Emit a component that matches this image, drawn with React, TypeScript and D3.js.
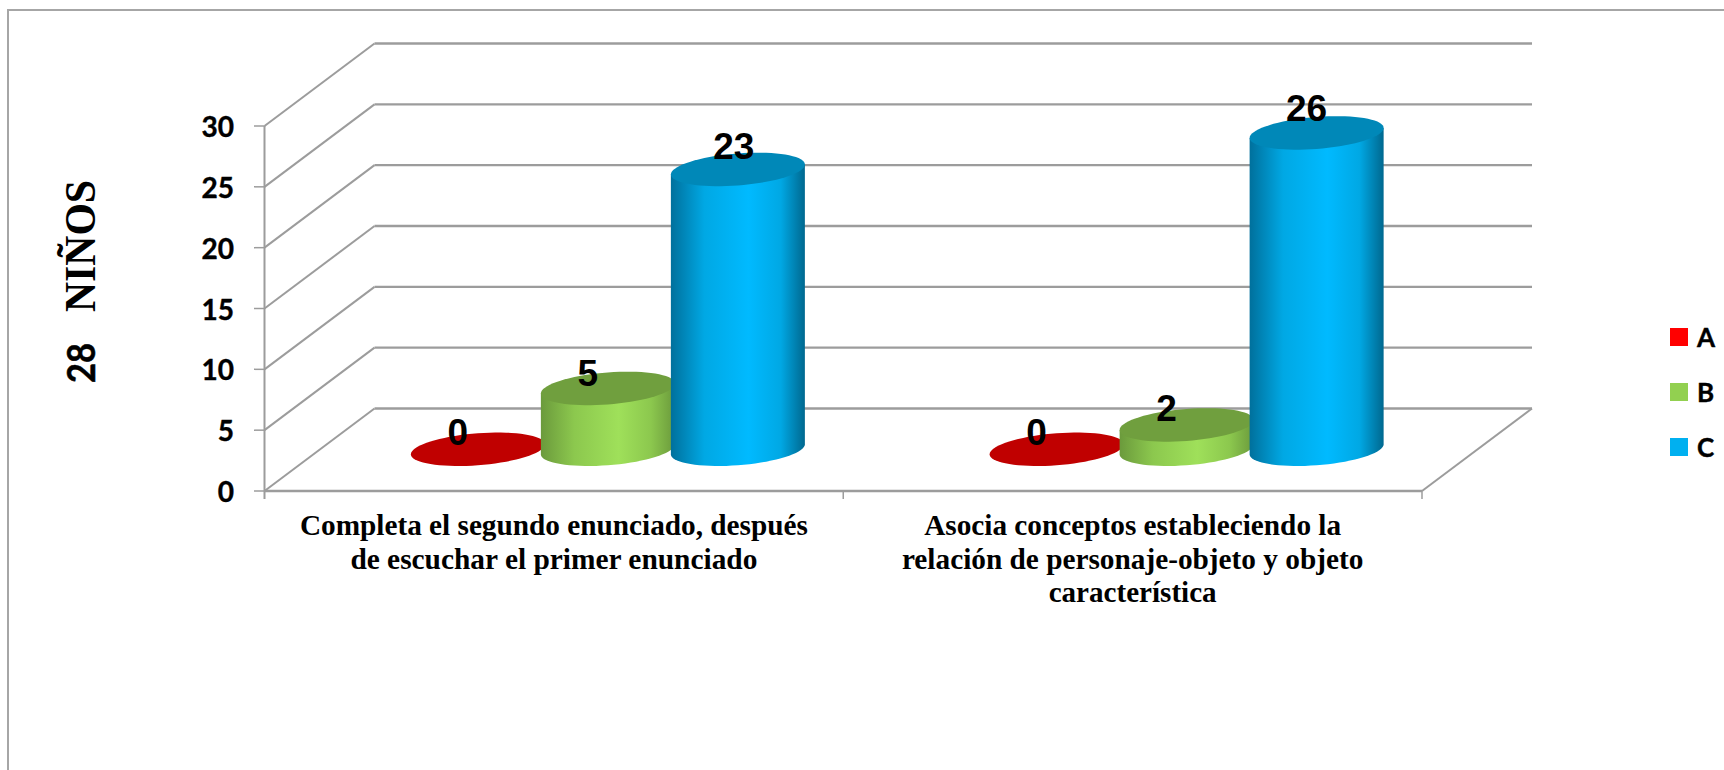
import React from "react";
import * as d3 from "d3";

const categories = [
  ["Completa el segundo enunciado, después", "de escuchar el primer enunciado"],
  ["Asocia conceptos estableciendo la", "relación de personaje-objeto y objeto", "característica"],
];
const categoryKeys = ["cat1", "cat2"];
const seriesNames = ["A", "B", "C"];
const valuesA = [0, 0];
const valuesB = [5, 2];
const valuesC = [23, 26];
const yTicks = [0, 5, 10, 15, 20, 25, 30];

const seriesValues = [valuesA, valuesB, valuesC];
const legendColors = ["#FF0000", "#92D050", "#00B0F0"];
const topColors = ["#C00000", "#709F3E", "#0088B8"];
const sideStops = [
  ["#8a0000", "#c00000", "#ff1a1a", "#c00000", "#8a0000"],
  ["#6b9a3c", "#8cc84e", "#9fe05a", "#8cc84e", "#6b9a3c"],
  ["#00709c", "#00a8e4", "#00baff", "#00a8e4", "#00688f"],
];
// nudges of the data labels relative to the top of each cylinder
const labelNudge = [
  [[-20, -5], [-20, -3], [-4, -11]],
  [[-20, -5], [-20, -4], [-10, -12]],
];
// rendered width of each category label line
const lineWidths = [
  [508, 407],
  [417, 461.5, 168],
];

const GRID = "#9c9c9c";
const SANS = "Lato, 'Open Sans', sans-serif";
const SERIF = "'Liberation Serif', serif";
const ARIAL = "'Liberation Sans', Arial, sans-serif";

const depthX = 110;
const depthY = 82.5;
const x0 = d3.scaleBand<string>().domain(categoryKeys).range([264.5, 1422]);
const x1 = d3.scaleBand<string>().domain(seriesNames).range([-195, 195]);
const y = d3.scaleLinear().domain([0, 30]).range([491, 126]);

const rx = 67;
const skew = 5;
const ry = 16;

function ellipsePath(cx: number, cy: number) {
  const pts = d3.range(0, 73).map((i) => {
    const t = (i / 72) * 2 * Math.PI;
    return [cx + rx * Math.cos(t), cy - skew * Math.cos(t) + ry * Math.sin(t)] as [number, number];
  });
  return d3.line()(pts) + "Z";
}

function bodyPath(cx: number, topY: number, baseY: number) {
  // Side of the cylinder: the top edge from left to right, then the lower half of the base
  const lower = d3.range(0, 37).map((i) => {
    const t = (i / 36) * Math.PI;
    return [cx + rx * Math.cos(t), baseY - skew * Math.cos(t) + ry * Math.sin(t)] as [number, number];
  });
  return `M${cx - rx},${topY + skew}L${cx + rx},${topY - skew}` + "L" + lower.map((p) => p.join(",")).join("L") + "Z";
}

export default function App() {
  const ticksBack = yTicks.map((t) => y(t) - depthY);
  const left = x0.range()[0];
  const right = x0.range()[1];
  return (
    <svg width={1724} height={770} style={{ position: "absolute", left: 0, top: 0, display: "block", background: "#fff" }}>
      <defs>
        {sideStops.map((st, i) => (
          <linearGradient key={i} id={`side${i}`} x1="0" x2="1" y1="0" y2="0">
            <stop offset="0%" stopColor={st[0]} />
            <stop offset="25%" stopColor={st[1]} />
            <stop offset="58%" stopColor={st[2]} />
            <stop offset="82%" stopColor={st[3]} />
            <stop offset="100%" stopColor={st[4]} />
          </linearGradient>
        ))}
      </defs>

      <path d="M8,770V10H1724" fill="none" stroke="#a6a6a6" strokeWidth={2} />

      {/* walls and floor */}
      {yTicks.map((t, i) => (
        <g key={t} stroke={GRID} strokeWidth={2} fill="none">
          <line x1={left} y1={y(t)} x2={left + depthX} y2={ticksBack[i]} />
          <line x1={left + depthX} y1={ticksBack[i]} x2={right + depthX} y2={ticksBack[i]} strokeWidth={2.4} />
          <line x1={254} y1={y(t)} x2={left} y2={y(t)} strokeWidth={1.5} />
        </g>
      ))}
      <g stroke={GRID} fill="none">
        <line x1={left} y1={y(30)} x2={left} y2={499} strokeWidth={2} />
        <line x1={left} y1={y(0)} x2={right} y2={y(0)} strokeWidth={2.4} />
        <line x1={right} y1={y(0)} x2={right + depthX} y2={y(0) - depthY} strokeWidth={2} />
        {[x0("cat2") as number, right].map((x) => (
          <line key={x} x1={x} y1={y(0)} x2={x} y2={499} strokeWidth={1.5} />
        ))}
      </g>

      {/* y labels */}
      {yTicks.map((t) => (
        <text key={t} x={234} y={y(t) + 11} textAnchor="end" fontFamily={SANS} fontWeight={700} fontSize={28} fill="#000" stroke="#000" strokeWidth={0.4}>
          {t}
        </text>
      ))}

      {/* cylinders */}
      {categoryKeys.map((c, ci) => {
        const center = (x0(c) as number) + x0.bandwidth() / 2 + depthX / 2 - 1;
        const baseY = y(0) - depthY / 2 - 0.5;
        return (
          <g key={c}>
            {seriesNames.map((s, si) => {
              const v = seriesValues[si][ci];
              const cx = center + (x1(s) as number) + x1.bandwidth() / 2;
              const topY = y(v) - depthY / 2 - 0.5;
              return (
                <g key={s}>
                  {v > 0 && <path d={bodyPath(cx, topY, baseY)} fill={`url(#side${si})`} />}
                  <path d={ellipsePath(cx, topY)} fill={topColors[si]} />
                </g>
              );
            })}
            {seriesNames.map((s, si) => {
              const v = seriesValues[si][ci];
              const cx = center + (x1(s) as number) + x1.bandwidth() / 2;
              const topY = y(v) - depthY / 2;
              const [nx, ny] = labelNudge[ci][si];
              return (
                <text key={s} x={cx + nx} y={topY + ny} textAnchor="middle" fontFamily={ARIAL} fontWeight={700} fontSize={37} fill="#000">
                  {v}
                </text>
              );
            })}
          </g>
        );
      })}

      {/* category labels */}
      {categoryKeys.map((c, ci) => (
        <g key={c}>
          {categories[ci].map((line, li) => (
            <text
              key={li}
              x={(x0(c) as number) + x0.bandwidth() / 2}
              y={535 + li * 33.5}
              textAnchor="middle"
              fontFamily={SERIF}
              fontWeight={700}
              fontSize={30}
              fill="#000"
              textLength={lineWidths[ci][li]}
              lengthAdjust="spacingAndGlyphs"
            >
              {line}
            </text>
          ))}
        </g>
      ))}

      {/* y title */}
      <g transform="translate(95,383) rotate(-90)" fontWeight={700} fill="#000">
        <text x={0} y={0} fontFamily={SANS} fontSize={38} textLength={40} lengthAdjust="spacingAndGlyphs" stroke="#000" strokeWidth={0.5}>
          28
        </text>
        <text x={71} y={0} fontFamily={SERIF} fontSize={44} textLength={132} lengthAdjust="spacingAndGlyphs">
          NIÑOS
        </text>
      </g>

      {/* legend */}
      {seriesNames.map((s, i) => {
        const ly = 328 + i * 55;
        return (
          <g key={s}>
            <rect x={1670} y={ly} width={18} height={18} fill={legendColors[i]} />
            <text x={1697} y={ly + 18.5} fontFamily={SANS} fontWeight={700} fontSize={26} fill="#000" stroke="#000" strokeWidth={0.4}>
              {s}
            </text>
          </g>
        );
      })}
    </svg>
  );
}
